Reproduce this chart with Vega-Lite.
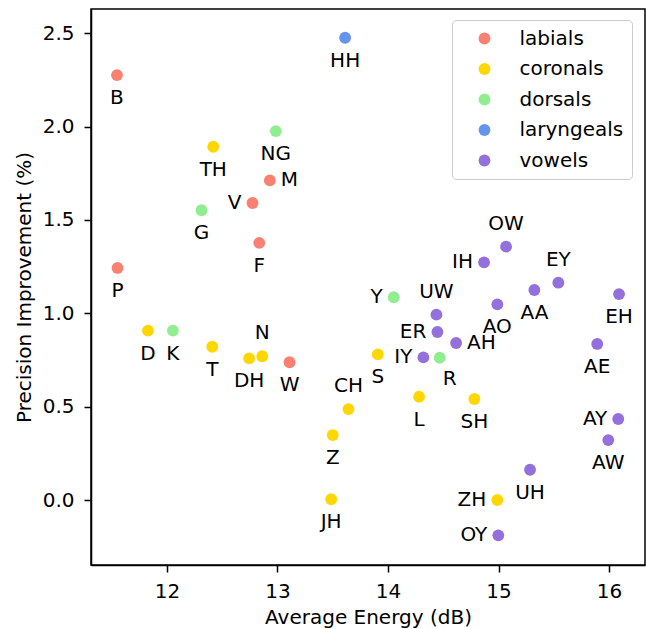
{
  "$schema": "https://vega.github.io/schema/vega-lite/v6.json",
  "width": 554,
  "height": 556,
  "padding": {"left": 14, "top": 9, "right": 1, "bottom": 2},
  "config": {
    "font": "DejaVu Sans",
    "view": {"stroke": "black", "strokeWidth": 1.5},
    "axis": {"grid": false, "domainColor": "black", "domainWidth": 1.5, "tickColor": "black", "tickWidth": 1.5, "tickSize": 7, "labelFontSize": 20, "titleFontSize": 20, "labelColor": "black", "titleColor": "black", "titleFontWeight": "normal", "labelFont": "DejaVu Sans", "titleFont": "DejaVu Sans"},
    "text": {"font": "DejaVu Sans", "fontSize": 20, "color": "black"}
  },
  "data": {"values": [
    {"phoneme": "B", "group": "labials", "energy": 11.548, "improvement": 2.276},
    {"phoneme": "P", "group": "labials", "energy": 11.553, "improvement": 1.243},
    {"phoneme": "M", "group": "labials", "energy": 12.931, "improvement": 1.712},
    {"phoneme": "V", "group": "labials", "energy": 12.774, "improvement": 1.591},
    {"phoneme": "F", "group": "labials", "energy": 12.835, "improvement": 1.377},
    {"phoneme": "W", "group": "labials", "energy": 13.109, "improvement": 0.738},
    {"phoneme": "TH", "group": "coronals", "energy": 12.419, "improvement": 1.892},
    {"phoneme": "D", "group": "coronals", "energy": 11.828, "improvement": 0.907},
    {"phoneme": "T", "group": "coronals", "energy": 12.41, "improvement": 0.821},
    {"phoneme": "DH", "group": "coronals", "energy": 12.744, "improvement": 0.759},
    {"phoneme": "N", "group": "coronals", "energy": 12.862, "improvement": 0.77},
    {"phoneme": "CH", "group": "coronals", "energy": 13.642, "improvement": 0.487},
    {"phoneme": "Z", "group": "coronals", "energy": 13.5, "improvement": 0.348},
    {"phoneme": "JH", "group": "coronals", "energy": 13.486, "improvement": 0.004},
    {"phoneme": "S", "group": "coronals", "energy": 13.908, "improvement": 0.78},
    {"phoneme": "L", "group": "coronals", "energy": 14.281, "improvement": 0.553},
    {"phoneme": "SH", "group": "coronals", "energy": 14.781, "improvement": 0.541},
    {"phoneme": "ZH", "group": "coronals", "energy": 14.989, "improvement": 0.0},
    {"phoneme": "NG", "group": "dorsals", "energy": 12.985, "improvement": 1.976},
    {"phoneme": "G", "group": "dorsals", "energy": 12.313, "improvement": 1.552},
    {"phoneme": "K", "group": "dorsals", "energy": 12.054, "improvement": 0.907},
    {"phoneme": "Y", "group": "dorsals", "energy": 14.052, "improvement": 1.086},
    {"phoneme": "R", "group": "dorsals", "energy": 14.468, "improvement": 0.762},
    {"phoneme": "HH", "group": "laryngeals", "energy": 13.612, "improvement": 2.476},
    {"phoneme": "OW", "group": "vowels", "energy": 15.068, "improvement": 1.357},
    {"phoneme": "IH", "group": "vowels", "energy": 14.869, "improvement": 1.273},
    {"phoneme": "EY", "group": "vowels", "energy": 15.541, "improvement": 1.164},
    {"phoneme": "AA", "group": "vowels", "energy": 15.324, "improvement": 1.125},
    {"phoneme": "EH", "group": "vowels", "energy": 16.09, "improvement": 1.103},
    {"phoneme": "AO", "group": "vowels", "energy": 14.989, "improvement": 1.048},
    {"phoneme": "UW", "group": "vowels", "energy": 14.438, "improvement": 0.993},
    {"phoneme": "ER", "group": "vowels", "energy": 14.447, "improvement": 0.9},
    {"phoneme": "AE", "group": "vowels", "energy": 15.893, "improvement": 0.836},
    {"phoneme": "AH", "group": "vowels", "energy": 14.616, "improvement": 0.841},
    {"phoneme": "IY", "group": "vowels", "energy": 14.32, "improvement": 0.764},
    {"phoneme": "AY", "group": "vowels", "energy": 16.083, "improvement": 0.434},
    {"phoneme": "AW", "group": "vowels", "energy": 15.993, "improvement": 0.321},
    {"phoneme": "UH", "group": "vowels", "energy": 15.285, "improvement": 0.162},
    {"phoneme": "OY", "group": "vowels", "energy": 14.998, "improvement": -0.189}
  ]},
  "encoding": {
    "x": {"field": "energy", "type": "quantitative", "title": "Average Energy (dB)",
          "scale": {"domain": [11.313, 16.325], "nice": false, "zero": false},
          "axis": {"values": [12, 13, 14, 15, 16], "labelPadding": 9, "titlePadding": 6}},
    "y": {"field": "improvement", "type": "quantitative", "title": "Precision Improvement (%)",
          "scale": {"domain": [-0.348, 2.63], "nice": false, "zero": false},
          "axis": {"values": [0, 0.5, 1, 1.5, 2, 2.5], "format": ".1f", "labelPadding": 10, "titlePadding": 8}}
  },
  "layer": [
    {
      "mark": {"type": "circle", "size": 140, "opacity": 1},
      "encoding": {
        "color": {"field": "group", "type": "nominal",
          "scale": {"domain": ["labials", "coronals", "dorsals", "laryngeals", "vowels"],
                    "range": ["#FA8072", "#FFD700", "#90EE90", "#6495ED", "#9370DB"]},
          "legend": {"title": null, "orient": "none", "legendX": 361, "legendY": 11,
                     "labelFontSize": 20, "labelFont": "DejaVu Sans", "labelColor": "black",
                     "symbolType": "circle", "symbolSize": 140, "symbolStrokeWidth": 0, "symbolOpacity": 1,
                     "padding": 8.5, "symbolOffset": 14, "labelOffset": 25, "rowPadding": 10.5,
                     "strokeColor": "#cccccc", "fillColor": "rgba(255,255,255,0.8)", "cornerRadius": 4}}
      }
    },
    {
      "transform": [{"filter": {"field": "phoneme", "oneOf": ["B","P","TH","NG","G","F","HH","D","K","T","DH","W","Z","JH","S","L","SH","AA","AO","EH","AE","AW","UH"]}}],
      "mark": {"type": "text", "baseline": "middle", "align": "center", "dy": 23},
      "encoding": {"text": {"field": "phoneme"}}
    },
    {
      "transform": [{"filter": {"field": "phoneme", "oneOf": ["N","CH","OW","EY","UW"]}}],
      "mark": {"type": "text", "baseline": "middle", "align": "center", "dy": -23},
      "encoding": {"text": {"field": "phoneme"}}
    },
    {
      "transform": [{"filter": {"field": "phoneme", "oneOf": ["V","IH","Y","ER","IY","ZH","OY","AY"]}}],
      "mark": {"type": "text", "baseline": "middle", "align": "right", "dx": -11},
      "encoding": {"text": {"field": "phoneme"}}
    },
    {
      "transform": [{"filter": {"field": "phoneme", "oneOf": ["M","AH"]}}],
      "mark": {"type": "text", "baseline": "middle", "align": "left", "dx": 11},
      "encoding": {"text": {"field": "phoneme"}}
    },
    {
      "transform": [{"filter": {"field": "phoneme", "oneOf": ["R"]}}],
      "mark": {"type": "text", "baseline": "middle", "align": "center", "dx": 10, "dy": 21},
      "encoding": {"text": {"field": "phoneme"}}
    }
  ]
}
